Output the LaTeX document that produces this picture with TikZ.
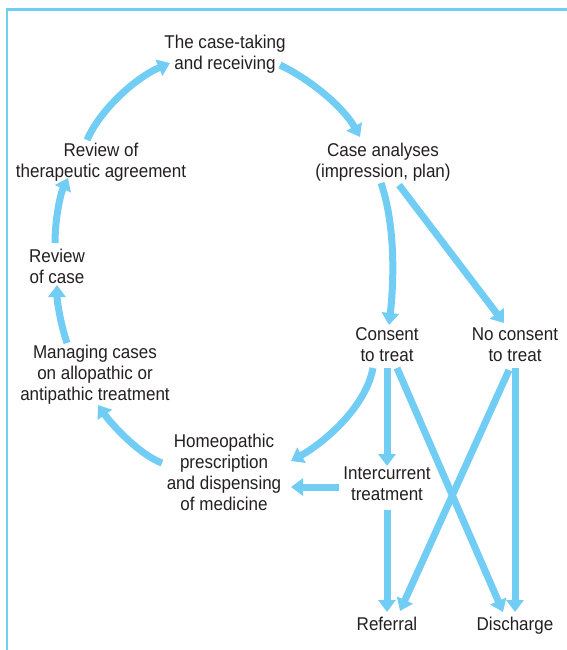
\documentclass[tikz,border=0pt]{standalone}
\usepackage{fontspec}
\setmainfont{Liberation Sans}[FakeStretch=0.92]
\usetikzlibrary{arrows.meta}
\definecolor{flowblue}{HTML}{72CDF4}
\definecolor{inkgray}{HTML}{231F20}
\tikzset{
  lbl/.style={align=center, inner sep=0pt, text=inkgray, font=\fontsize{18.5}{21}\selectfont},
  flow/.style={draw=flowblue, line width=7pt, -{Triangle[length=12pt,width=17pt]}},
  framel/.style={draw=flowblue, line width=2.2pt}
}
\begin{document}
\begin{tikzpicture}[x=1pt,y=-1pt]
\useasboundingbox (0,0) rectangle (567,650);
\draw[framel] (567,9.5) -- (7,9.5) -- (7,650);

\node[lbl] (ct) at (225,54) {The case-taking\\and receiving};
\node[lbl] (ca) at (383,162.5) {Case analyses\\(impression, plan)};
\node[lbl] (rta) at (101,162) {Review of\\therapeutic agreement};
\node[lbl] (roc) at (57,266.5) {Review\\of case};
\node[lbl] (mc) at (95,375) {Managing cases\\on allopathic or\\antipathic treatment};
\node[lbl] (hp) at (224,472) {Homeopathic\\prescription\\and dispensing\\of medicine};
\node[lbl] (cons) at (387,344.5) {Consent\\to treat};
\node[lbl] (nocons) at (515,344.5) {No consent\\to treat};
\node[lbl] (inter) at (387,484) {Intercurrent\\treatment};
\node[lbl, anchor=base] (ref) at (387,630.7) {Referral};
\node[lbl, anchor=base] (dis) at (515,630.7) {Discharge};

% cycle
\draw[flow] ([shift={(-14,-22)}]rta.center) .. controls (100,110) and (135,78) .. ([shift={(-55,9)}]ct.center);
\draw[flow] ([shift={(55,11)}]ct.center) .. controls (315,82) and (345,110) .. ([shift={(-23,-25.5)}]ca.center);
\draw[flow] ([shift={(-2,20.5)}]ca.center) .. controls (397,230) and (393,290) .. ([shift={(2,-19.5)}]cons.center);
\draw[flow] ([shift={(16,22.5)}]ca.center) -- ([shift={(-11,-21.5)}]nocons.center);
\draw[flow] ([shift={(-14,23.5)}]cons.center) .. controls (365,410) and (320,445) .. ([shift={(67,-11)}]hp.center);
\draw[flow] ([shift={(0,23.5)}]cons.center) -- ([shift={(0,-18)}]inter.center);
\draw[flow] ([shift={(-48,3)}]inter.center) -- ([shift={(67,15)}]hp.center);
\draw[flow] ([shift={(0,26)}]inter.center) -- ([shift={(0,-18.7)}]ref.base);
\draw[flow] ([shift={(10,23.5)}]cons.center) -- ([shift={(-12,-18.7)}]dis.base);
\draw[flow] ([shift={(-6,25.5)}]nocons.center) -- ([shift={(13,-19.7)}]ref.base);
\draw[flow] ([shift={(0,23.5)}]nocons.center) -- ([shift={(0,-18.7)}]dis.base);
\draw[flow] ([shift={(-62,-9)}]hp.center) .. controls (140,455) and (112,425) .. ([shift={(3,30)}]mc.center);
\draw[flow] ([shift={(-28,-32)}]mc.center) .. controls (60,322) and (57,300) .. ([shift={(0,18.5)}]roc.center);
\draw[flow] ([shift={(-2,-23.5)}]roc.center) .. controls (55,220) and (60,195) .. ([shift={(-33,16)}]rta.center);
\end{tikzpicture}
\end{document}
